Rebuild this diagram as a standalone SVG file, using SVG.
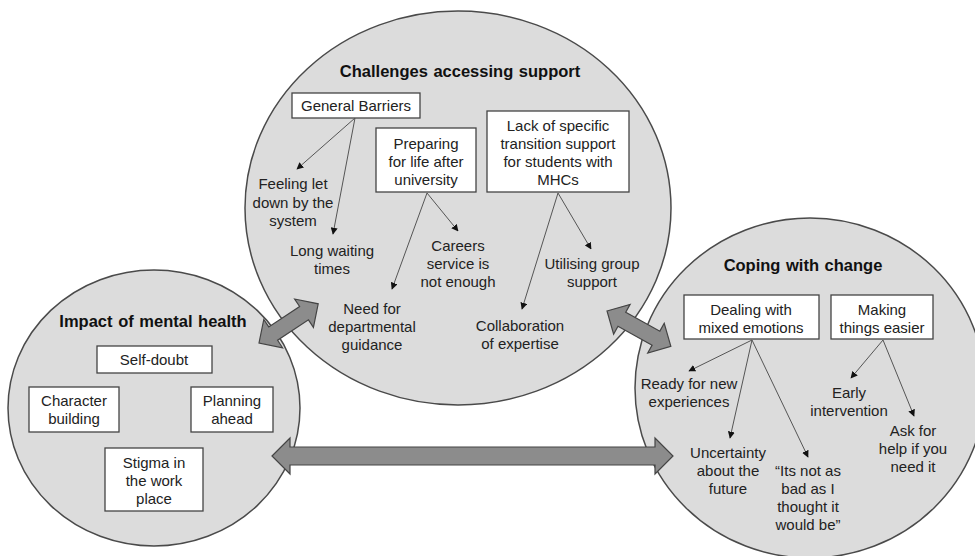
<svg xmlns="http://www.w3.org/2000/svg" width="975" height="556" viewBox="0 0 975 556">
<defs>
<style>
.circ{fill:#dcdcdc;stroke:#4a4a4a;stroke-width:1.5}
.box{fill:#fff;stroke:#444;stroke-width:1.3}
.t{font-family:"Liberation Sans",Arial,sans-serif;font-size:15px;fill:#222;text-anchor:middle}
.h{font-family:"Liberation Sans",Arial,sans-serif;font-size:16.5px;font-weight:bold;fill:#111;text-anchor:middle;word-spacing:1px}
.con{stroke:#555;stroke-width:1;fill:none;marker-end:url(#ah)}
.blk{fill:#8c8c8c;stroke:#444;stroke-width:1.2}
</style>
<marker id="ah" viewBox="0 0 10 10" refX="9" refY="5" markerWidth="7" markerHeight="7" markerUnits="userSpaceOnUse" orient="auto">
<path d="M0,0 L10,5 L0,10 Z" fill="#111"/>
</marker>
</defs>
<rect width="975" height="556" fill="#fff"/>

<g id="circles">
<ellipse class="circ" cx="458" cy="208" rx="213" ry="197"/>
<ellipse class="circ" cx="154" cy="408" rx="146" ry="138"/>
<ellipse class="circ" cx="810" cy="388" rx="175" ry="170"/>
</g>

<g id="challenges">
<text class="h" x="460" y="77">Challenges accessing support</text>
</g>
<g id="general-barriers">
<rect class="box" x="292" y="93" width="128" height="25"/>
<text class="t" x="356" y="111">General Barriers</text>
</g>
<g id="preparing">
<rect class="box" x="376" y="128" width="100" height="64"/>
<text class="t" x="426" y="149">Preparing</text>
<text class="t" x="426" y="167">for life after</text>
<text class="t" x="426" y="185">university</text>
</g>
<g id="lack-support">
<rect class="box" x="487" y="111" width="142" height="81"/>
<text class="t" x="558" y="131">Lack of specific</text>
<text class="t" x="558" y="149">transition support</text>
<text class="t" x="558" y="167">for students with</text>
<text class="t" x="558" y="185">MHCs</text>
</g>
<g id="feeling-let-down">
<text class="t" x="293" y="189">Feeling let</text>
<text class="t" x="293" y="208">down by the</text>
<text class="t" x="293" y="226">system</text>
</g>
<g id="long-waiting">
<text class="t" x="332" y="256">Long waiting</text>
<text class="t" x="332" y="274">times</text>
</g>
<g id="careers">
<text class="t" x="458" y="251">Careers</text>
<text class="t" x="458" y="269">service is</text>
<text class="t" x="458" y="287">not enough</text>
</g>
<g id="need-for">
<text class="t" x="372" y="314">Need for</text>
<text class="t" x="372" y="332">departmental</text>
<text class="t" x="372" y="350">guidance</text>
</g>
<g id="utilising">
<text class="t" x="592" y="269">Utilising group</text>
<text class="t" x="592" y="287">support</text>
</g>
<g id="collaboration">
<text class="t" x="520" y="331">Collaboration</text>
<text class="t" x="520" y="349">of expertise</text>
</g>

<g id="impact">
<text class="h" x="153" y="327">Impact of mental health</text>
</g>
<g id="self-doubt">
<rect class="box" x="97" y="346" width="115" height="27"/>
<text class="t" x="154" y="365">Self-doubt</text>
</g>
<g id="character">
<rect class="box" x="29" y="387" width="90" height="45"/>
<text class="t" x="74" y="406">Character</text>
<text class="t" x="74" y="424">building</text>
</g>
<g id="planning">
<rect class="box" x="191" y="387" width="82" height="45"/>
<text class="t" x="232" y="406">Planning</text>
<text class="t" x="232" y="424">ahead</text>
</g>
<g id="stigma">
<rect class="box" x="105" y="448" width="98" height="63"/>
<text class="t" x="154" y="468">Stigma in</text>
<text class="t" x="154" y="486">the work</text>
<text class="t" x="154" y="504">place</text>
</g>

<g id="coping">
<text class="h" x="803" y="271">Coping with change</text>
</g>
<g id="dealing">
<rect class="box" x="684" y="295" width="135" height="44"/>
<text class="t" x="751" y="315">Dealing with</text>
<text class="t" x="751" y="333">mixed emotions</text>
</g>
<g id="making">
<rect class="box" x="831" y="295" width="102" height="44"/>
<text class="t" x="882" y="315">Making</text>
<text class="t" x="882" y="333">things easier</text>
</g>
<g id="ready">
<text class="t" x="689" y="389">Ready for new</text>
<text class="t" x="689" y="407">experiences</text>
</g>
<g id="early">
<text class="t" x="849" y="398">Early</text>
<text class="t" x="849" y="416">intervention</text>
</g>
<g id="ask">
<text class="t" x="913" y="436">Ask for</text>
<text class="t" x="913" y="454">help if you</text>
<text class="t" x="913" y="472">need it</text>
</g>
<g id="uncertainty">
<text class="t" x="728" y="458">Uncertainty</text>
<text class="t" x="728" y="476">about the</text>
<text class="t" x="728" y="494">future</text>
</g>
<g id="its-not">
<text class="t" x="808" y="476">“Its not as</text>
<text class="t" x="808" y="494">bad as I</text>
<text class="t" x="808" y="512">thought it</text>
<text class="t" x="808" y="530">would be”</text>
</g>

<g id="connectors">
<line class="con" x1="355" y1="118" x2="297" y2="169"/>
<line class="con" x1="355" y1="118" x2="333" y2="234"/>
<line class="con" x1="427" y1="193" x2="458" y2="231"/>
<line class="con" x1="427" y1="193" x2="392" y2="289"/>
<line class="con" x1="558" y1="193" x2="591" y2="249"/>
<line class="con" x1="558" y1="193" x2="522" y2="309"/>
<line class="con" x1="752" y1="340" x2="689" y2="371"/>
<line class="con" x1="752" y1="340" x2="730" y2="438"/>
<line class="con" x1="752" y1="340" x2="808" y2="457"/>
<line class="con" x1="883" y1="340" x2="851" y2="378"/>
<line class="con" x1="883" y1="340" x2="914" y2="416"/>
<path class="blk" transform="translate(272,456)" d="M0,0 L18,-18 L18,-9 L383,-9 L383,-18 L401,0 L383,18 L383,9 L18,9 L18,18 Z"/>
<path class="blk" transform="translate(259,343) rotate(-33.5)" d="M0,0 L17,-17 L17,-8 L54,-8 L54,-17 L71,0 L54,17 L54,8 L17,8 L17,17 Z"/>
<path class="blk" transform="translate(607,311) rotate(29)" d="M0,0 L17,-17 L17,-8 L56,-8 L56,-17 L73,0 L56,17 L56,8 L17,8 L17,17 Z"/>
</g>
</svg>
